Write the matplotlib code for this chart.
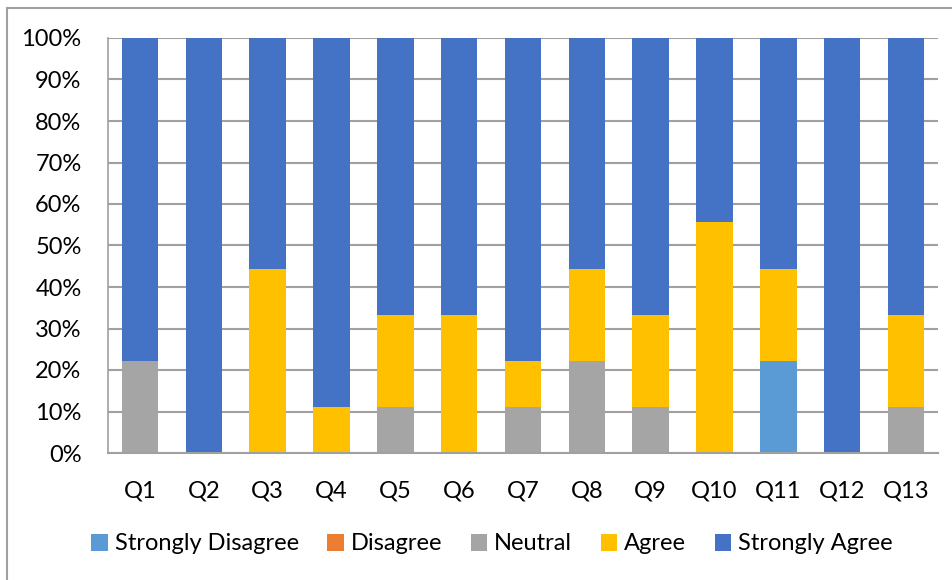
import matplotlib.pyplot as plt
import numpy as np
from matplotlib.ticker import PercentFormatter
from matplotlib.patches import Rectangle

plt.rcParams['font.family'] = ['Lato', 'DejaVu Sans']

# responses out of 9 per question
questions = ['Q1', 'Q2', 'Q3', 'Q4', 'Q5', 'Q6', 'Q7', 'Q8', 'Q9', 'Q10', 'Q11', 'Q12', 'Q13']
strongly_disagree = [0, 0, 0, 0, 0, 0, 0, 0, 0, 0, 2, 0, 0]
disagree = [0, 0, 0, 0, 0, 0, 0, 0, 0, 0, 0, 0, 0]
neutral = [2, 0, 0, 0, 1, 0, 1, 2, 1, 0, 0, 0, 1]
agree = [0, 0, 4, 1, 2, 3, 1, 2, 2, 5, 2, 0, 2]
strongly_agree = [7, 9, 5, 8, 6, 6, 7, 5, 6, 4, 5, 9, 6]

series = [('Strongly Disagree', strongly_disagree, '#5B9BD5'),
          ('Disagree', disagree, '#ED7D31'),
          ('Neutral', neutral, '#A5A5A5'),
          ('Agree', agree, '#FFC000'),
          ('Strongly Agree', strongly_agree, '#4472C4')]

fig = plt.figure(figsize=(9.53, 5.8), dpi=100)
ax = fig.add_axes([108/953, 1 - 453/580, (938-108)/953, (453-38)/580])

x = np.arange(len(questions))
total = np.sum([s[1] for s in series], axis=0)
bottom = np.zeros(len(questions))
for name, vals, col in series:
    pct = np.array(vals) / total * 100
    ax.bar(x, pct, 0.57, bottom=bottom, color=col, label=name, zorder=2)
    bottom += pct

ax.set_ylim(0, 100)
ax.set_xlim(-0.5, len(questions) - 0.5)
ax.set_yticks(np.arange(0, 101, 10))
ax.yaxis.set_major_formatter(PercentFormatter(decimals=0))
ax.set_xticks(x)
ax.set_xticklabels(questions)
ax.tick_params(length=0, labelsize=17, colors='black')
ax.tick_params(axis='x', pad=20)
ax.tick_params(axis='y', pad=19)
ax.grid(axis='y', color='#a0a0a0', linewidth=1.5, zorder=0)
for s in ['top', 'right']:
    ax.spines[s].set_visible(False)
ax.spines['left'].set_color('#a0a0a0')
ax.spines['bottom'].set_color('#a0a0a0')
ax.spines['left'].set_linewidth(1.2)
ax.spines['bottom'].set_linewidth(1.5)

fig.legend(loc='center', bbox_to_anchor=(492/953, 1 - 544/580), ncol=5, frameon=False,
           fontsize=17, handlelength=0.7, handleheight=0.7, handletextpad=0.3,
           columnspacing=1.2)

fig.patches.append(Rectangle((7/953, -0.1), 1.2, 1 - 8/580 + 0.1, transform=fig.transFigure,
                             fill=False, edgecolor='#a0a0a0', linewidth=1.5))

fig.savefig('out.png', dpi=100)
